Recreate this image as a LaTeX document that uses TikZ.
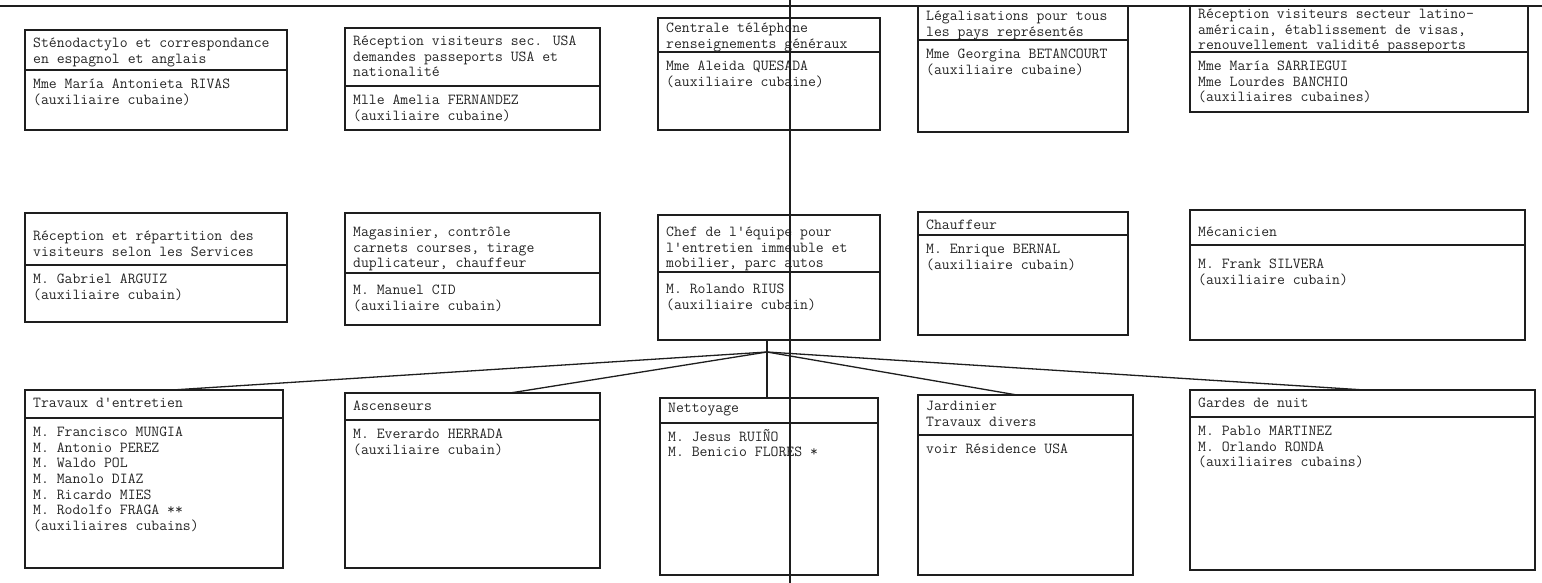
\documentclass[tikz,border=0pt]{standalone}
\usepackage{fontspec}
\definecolor{ink}{HTML}{1E1E1E}
\definecolor{tink}{HTML}{262626}
\def\tofs{8}\def\bofs{9}
\newcommand\obox[8]{%
  \node[orgbox, anchor=north west, minimum width={#4pt-#2pt}, minimum height={#6pt-#3pt}] (#1) at (#2,#3) {};
  \draw[ln] (#1.west |- 0,#5) -- (#1.east |- 0,#5);
  \node[txt] (#1t) at (#2+8,#3+\tofs) {#7};
  \node[txt] (#1b) at (#2+8,#5+\bofs) {#8};
}
\begin{document}
\begin{tikzpicture}[x=1pt,y=-1pt,
  orgbox/.style={draw=ink, line width=1.3pt, inner sep=0pt, outer sep=0pt, rectangle},
  ln/.style={draw=ink, line width=1.3pt},
  txt/.style={font=\ttfamily\fontsize{15.3}{15.6}\selectfont, text=tink, align=left, inner sep=0pt, anchor=north west}]
\useasboundingbox (0,0) rectangle (1542,583);
\fill[white] (0,0) rectangle (1542,583);
% top edge line
\coordinate (tl) at (0,6);
\coordinate (tr) at (1542,6);
\draw[ln, line width=1.4pt] (tl) -- (tr);

% row 1
\def\tofs{8}\def\bofs{9}
\obox{a1}{25}{30}{287}{70}{130}{Sténodactylo et correspondance\\en espagnol et anglais}{Mme María Antonieta RIVAS\\(auxiliaire cubaine)}
\obox{a2}{345}{28}{600}{86}{130}{Réception visiteurs sec. USA\\demandes passeports USA et\\nationalité}{Mlle Amelia FERNANDEZ\\(auxiliaire cubaine)}
\def\tofs{5}
\obox{a3}{658}{18}{880}{52}{130}{Centrale téléphone\\renseignements généraux}{Mme Aleida QUESADA\\(auxiliaire cubaine)}
\obox{a4}{918}{6}{1128}{40}{132}{Légalisations pour tous\\les pays représentés}{Mme Georgina BETANCOURT\\(auxiliaire cubaine)}
\def\tofs{3}
\obox{a5}{1190}{6}{1528}{52}{112}{Réception visiteurs secteur latino-\\américain, établissement de visas,\\renouvellement validité passeports}{Mme María SARRIEGUI\\Mme Lourdes BANCHIO\\(auxiliaires cubaines)}

% row 2
\def\tofs{18}\def\bofs{9}
\obox{b1}{25}{213}{287}{265}{322}{Réception et répartition des\\visiteurs selon les Services}{M. Gabriel ARGUIZ\\(auxiliaire cubain)}
\def\tofs{14}\def\bofs{12}
\obox{b2}{345}{213}{600}{273}{325}{Magasinier, contrôle\\carnets courses, tirage\\duplicateur, chauffeur}{M. Manuel CID\\(auxiliaire cubain)}
\def\tofs{12}
\obox{b3}{658}{215}{880}{272}{340}{Chef de l'équipe pour\\l'entretien immeuble et\\mobilier, parc autos}{M. Rolando RIUS\\(auxiliaire cubain)}
\def\tofs{8}\def\bofs{9}
\obox{b4}{918}{212}{1128}{235}{335}{Chauffeur}{M. Enrique BERNAL\\(auxiliaire cubain)}
\def\tofs{17}\def\bofs{14}
\obox{b5}{1190}{210}{1525}{245}{340}{Mécanicien}{M. Frank SILVERA\\(auxiliaire cubain)}

% row 3
\def\tofs{8}\def\bofs{9}
\obox{c1}{25}{390}{283}{418}{568}{Travaux d'entretien}{M. Francisco MUNGIA\\M. Antonio PEREZ\\M. Waldo POL\\M. Manolo DIAZ\\M. Ricardo MIES\\M. Rodolfo FRAGA **\\(auxiliaires cubains)}
\obox{c2}{345}{393}{600}{420}{568}{Ascenseurs}{M. Everardo HERRADA\\(auxiliaire cubain)}
\def\tofs{5}\def\bofs{6}
\obox{c3}{660}{398}{878}{423}{575}{Nettoyage}{M. Jesus RUIÑO\\M. Benicio FLORES *}
\def\tofs{6}\def\bofs{9}
\obox{c4}{918}{395}{1133}{435}{575}{Jardinier\\Travaux divers}{voir Résidence USA}
\def\tofs{8}\def\bofs{9}
\obox{c5}{1190}{390}{1535}{417}{570}{Gardes de nuit}{M. Pablo MARTINEZ\\M. Orlando RONDA\\(auxiliaires cubains)}

% fan from the chef box
\coordinate (fan) at (767,352);
\draw[ln] (b3.south -| fan) -- (fan);
\draw[ln] (fan) -- (c1.north -| 172,0);
\draw[ln] (fan) -- (c2.north -| 510,0);
\draw[ln] (fan) -- (c3.north -| fan);
\draw[ln] (fan) -- (c4.north -| 1017,0);
\draw[ln] (fan) -- (c5.north -| 1365,0);

% vertical line through the middle column
\coordinate (vt) at (790,0);
\coordinate (vb) at (790,583);
\draw[ln, line width=1.8pt] (vt) -- (vb);
\end{tikzpicture}
\end{document}
